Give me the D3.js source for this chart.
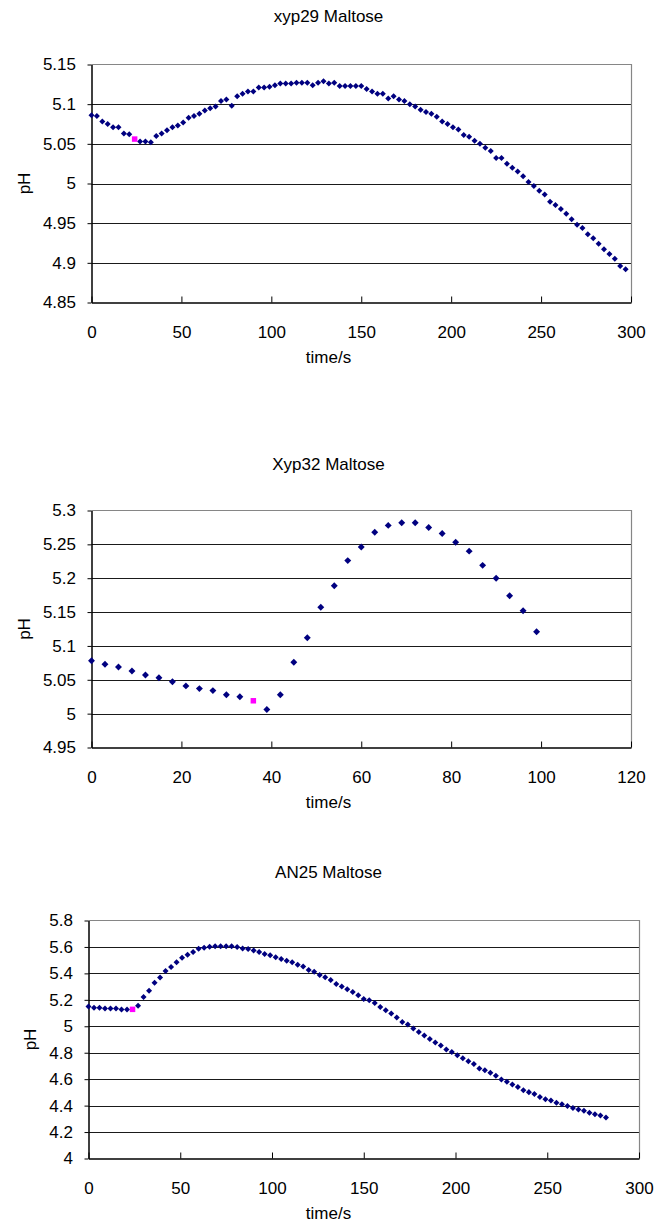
<!DOCTYPE html>
<html>
<head>
<meta charset="utf-8">
<style>
  body { margin: 0; background: #fff; }
  text { font-family: "Liberation Sans", Arial, sans-serif; fill: #000; }
</style>
</head>
<body>
<svg id="chart" width="657" height="1228" style="background:white;"></svg>

<script src="https://d3js.org/d3.v7.min.js"></script>
<script>
// ---- data ----
var titles = ["xyp29 Maltose", "Xyp32 Maltose", "AN25 Maltose"];
var highlight = [24, 36, 24];   // time of the magenta point in each run

var time1 = [0,3,6,9,12,15,18,21,24,27,30,33,36,39,42,45,48,51,54,57,60,63,66,69,72,75,78,81,84,87,
  90,93,96,99,102,105,108,111,114,117,120,123,126,129,132,135,138,141,144,147,150,153,156,159,162,165,168,171,174,177,
  180,183,186,189,192,195,198,201,204,207,210,213,216,219,222,225,228,231,234,237,240,243,246,249,252,255,258,261,264,267,
  270,273,276,279,282,285,288,291,294,297];
var ph1 = [5.086,5.085,5.078,5.075,5.071,5.071,5.063,5.062,5.056,5.053,5.053,5.052,5.060,5.063,5.067,5.071,5.073,5.077,5.083,5.085,
  5.088,5.092,5.095,5.097,5.104,5.106,5.098,5.110,5.113,5.116,5.116,5.121,5.121,5.122,5.124,5.126,5.126,5.126,5.127,5.127,
  5.127,5.124,5.127,5.129,5.126,5.127,5.123,5.123,5.123,5.123,5.123,5.119,5.116,5.113,5.113,5.107,5.110,5.106,5.104,5.100,
  5.097,5.093,5.090,5.088,5.084,5.078,5.075,5.071,5.068,5.061,5.059,5.054,5.050,5.045,5.041,5.032,5.032,5.025,5.020,5.015,
  5.009,5.002,4.997,4.991,4.986,4.977,4.973,4.968,4.962,4.955,4.948,4.944,4.936,4.931,4.924,4.917,4.911,4.905,4.896,4.892];

var time2 = [0,3,6,9,12,15,18,21,24,27,30,33,36,39,42,45,48,51,54,57,60,63,66,69,72,75,78,81,84,87,90,93,96,99];
var ph2 = [5.078,5.073,5.069,5.063,5.057,5.053,5.047,5.041,5.037,5.034,5.028,5.025,5.019,5.006,5.028,5.076,5.112,5.157,
  5.189,5.226,5.246,5.268,5.278,5.282,5.282,5.275,5.266,5.253,5.240,5.219,5.200,5.174,5.152,5.121];

var time3 = [0,3,6,9,12,15,18,21,24,27,30,33,36,39,42,45,48,51,54,57,60,63,66,69,72,75,78,81,84,87,
  90,93,96,99,102,105,108,111,114,117,120,123,126,129,132,135,138,141,144,147,150,153,156,159,162,165,168,171,174,177,
  180,183,186,189,192,195,198,201,204,207,210,213,216,219,222,225,228,231,234,237,240,243,246,249,252,255,258,261,264,267,
  270,273,276,279,282];
var ph3 = [5.149,5.141,5.141,5.134,5.134,5.134,5.126,5.126,5.128,5.156,5.221,5.269,5.330,5.368,5.418,5.448,5.485,5.518,5.541,5.561,
  5.586,5.594,5.601,5.606,5.606,5.606,5.606,5.599,5.589,5.584,5.574,5.561,5.546,5.538,5.523,5.508,5.496,5.485,5.466,5.453,
  5.425,5.413,5.387,5.370,5.350,5.320,5.300,5.280,5.260,5.234,5.206,5.196,5.176,5.146,5.121,5.096,5.066,5.033,5.013,4.983,
  4.957,4.930,4.904,4.877,4.854,4.824,4.806,4.781,4.758,4.736,4.715,4.681,4.668,4.648,4.625,4.598,4.580,4.560,4.540,4.517,
  4.502,4.487,4.466,4.449,4.439,4.421,4.411,4.398,4.381,4.371,4.361,4.346,4.334,4.326,4.311];

var xTicks1 = [0,50,100,150,200,250,300];
var xTicks2 = [0,20,40,60,80,100,120];
var xTicks3 = [0,50,100,150,200,250,300];
var yTicks1 = [4.85,4.9,4.95,5,5.05,5.1,5.15];
var yTicks2 = [4.95,5,5.05,5.1,5.15,5.2,5.25,5.3];
var yTicks3 = [4,4.2,4.4,4.6,4.8,5,5.2,5.4,5.6,5.8];

// ---- layout ----
var charts = [
  {title: titles[0], t: time1, ph: ph1, hi: highlight[0], xt: xTicks1, yt: yTicks1,
   l: 91.5, r: 631, top: 64.5, bot: 302.5, titleY: 22, labX: 76, phX: 30, mk: 18},
  {title: titles[1], t: time2, ph: ph2, hi: highlight[1], xt: xTicks2, yt: yTicks2,
   l: 91.5, r: 631, top: 510.5, bot: 747.5, titleY: 470, labX: 76, phX: 30, mk: 24},
  {title: titles[2], t: time3, ph: ph3, hi: highlight[2], xt: xTicks3, yt: yTicks3,
   l: 88.5, r: 639, top: 920.5, bot: 1158.5, titleY: 878, labX: 73, phX: 36, mk: 18}
];

var svg = d3.select('#chart');
var fmt = d3.format('~g');

charts.forEach(function(c) {
  var x = d3.scaleLinear().domain([c.xt[0], c.xt[c.xt.length-1]]).range([c.l, c.r]);
  var y = d3.scaleLinear().domain([c.yt[0], c.yt[c.yt.length-1]]).range([c.bot, c.top]);
  var g = svg.append('g');

  g.append('text')
    .attr('x', 328.5).attr('y', c.titleY)
    .attr('text-anchor', 'middle')
    .style('font-size', '17px')
    .text(c.title);

  // horizontal gridlines
  g.selectAll('line.grid')
    .data(c.yt.slice(1, -1))
    .enter().append('line')
    .attr('x1', c.l).attr('x2', c.r)
    .attr('y1', function(d) { return Math.round(y(d)) + 0.5; })
    .attr('y2', function(d) { return Math.round(y(d)) + 0.5; })
    .attr('stroke', '#1a1a1a').attr('stroke-width', 1);

  // top + right frame in grey
  g.append('path')
    .attr('d', 'M' + c.l + ',' + c.top + 'H' + (c.r + 0.5) + 'V' + c.bot)
    .attr('fill', 'none').attr('stroke', '#868686').attr('stroke-width', 1.2);

  var yAxis = g.append('g')
    .attr('transform', 'translate(' + c.l + ',0)')
    .call(d3.axisLeft(y).tickValues(c.yt).tickFormat(fmt)
      .tickSizeInner(4).tickSizeOuter(0).tickPadding(c.l - c.labX - 4));
  var xAxis = g.append('g')
    .attr('transform', 'translate(0,' + c.bot + ')')
    .call(d3.axisBottom(x).tickValues(c.xt).tickFormat(fmt)
      .tickSizeInner(-6).tickSizeOuter(0).tickPadding(23));

  [yAxis, xAxis].forEach(function(a) {
    a.select('.domain').attr('stroke', '#000').attr('stroke-width', 1.5);
    a.selectAll('.tick line').attr('stroke', '#000');
    a.selectAll('text').style('font-size', '17px')
      .style('font-family', '"Liberation Sans", Arial, sans-serif');
  });

  g.append('text')
    .attr('x', 328.5).attr('y', c.bot + 60)
    .attr('text-anchor', 'middle')
    .style('font-size', '17px')
    .text('time/s');

  g.append('text')
    .attr('transform', 'translate(' + c.phX + ',' + (c.top + c.bot) / 2 + ') rotate(-90)')
    .attr('text-anchor', 'middle')
    .style('font-size', '17px')
    .text('pH');

  var pts = d3.zip(c.t, c.ph);
  g.selectAll('path.pt')
    .data(pts.filter(function(d) { return d[0] !== c.hi; }))
    .enter().append('path')
    .attr('d', d3.symbol(d3.symbolSquare, c.mk))
    .attr('transform', function(d) { return 'translate(' + x(d[0]) + ',' + y(d[1]) + ') rotate(45)'; })
    .attr('fill', '#000080');

  g.selectAll('path.hi')
    .data(pts.filter(function(d) { return d[0] === c.hi; }))
    .enter().append('path')
    .attr('d', d3.symbol(d3.symbolSquare, 30))
    .attr('transform', function(d) { return 'translate(' + x(d[0]) + ',' + y(d[1]) + ')'; })
    .attr('fill', '#ff00ff');
});
</script>
</body>
</html>
